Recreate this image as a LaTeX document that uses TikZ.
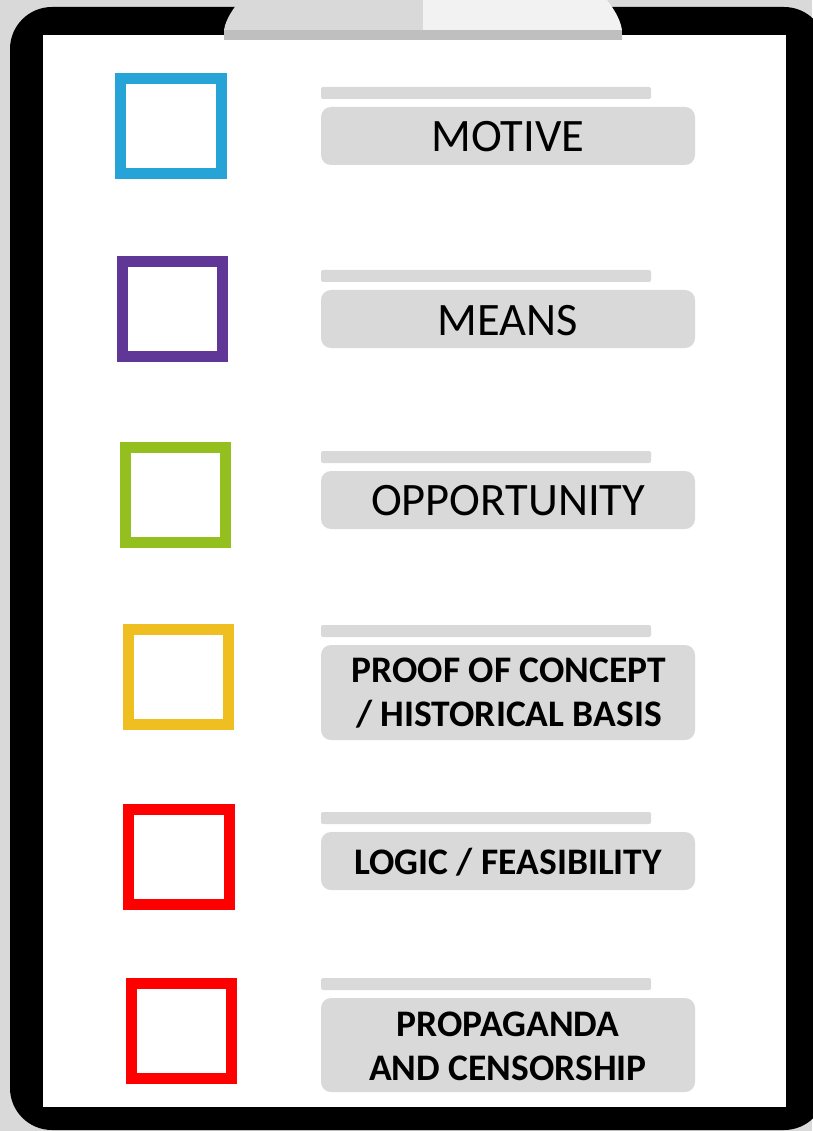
\documentclass[tikz,border=0pt]{standalone}
\usepackage{fontspec}
\setmainfont{Carlito}
\definecolor{bgGray}{HTML}{D9D9D9}
\definecolor{barGray}{HTML}{D9D9D9}
\definecolor{clipL}{HTML}{D9D9D9}
\definecolor{clipR}{HTML}{F2F2F2}
\definecolor{clipB}{HTML}{BFBFBF}
\definecolor{cBlue}{HTML}{26A3D7}
\definecolor{cPurple}{HTML}{603797}
\definecolor{cGreen}{HTML}{93C01F}
\definecolor{cYellow}{HTML}{EFBF22}
\definecolor{cRed}{HTML}{FF0000}
\tikzset{
  chk/.style={draw=#1, line width=11pt, fill=white},
  thinbar/.style={fill=barGray, rounded corners=2pt},
  labelbox/.style={fill=barGray, rounded corners=10pt},
  lbltxt/.style={font=\fontsize{46.5}{52}\selectfont, align=center, inner sep=0pt},
  lblbold/.style={font=\bfseries\fontsize{37.5}{44}\selectfont, align=center, inner sep=0pt},
}
\begin{document}
\begin{tikzpicture}[x=1pt,y=-1pt]
\useasboundingbox (0,0) rectangle (812,1131);
\fill[bgGray] (0,0) rectangle (812,1131);
% clipboard body
\fill[black, rounded corners=42pt] (10,7) rectangle (826,1130);
\fill[white] (43,35) rectangle (786,1107);
% clip
\fill[clipL] (224,30) .. controls (226,18) and (234,8) .. (240,0) -- (423,0) -- (423,30) -- cycle;
\fill[clipR] (423,0) -- (607,0) .. controls (613,8) and (620,18) .. (622,30) -- (423,30) -- cycle;
\fill[clipB] (224,30) rectangle (622,40);

% checkboxes (centre line of stroke)
\draw[chk=cBlue]   (120.5,78.5) rectangle (221.5,173.5);
\draw[chk=cPurple] (122.5,261.5) rectangle (222.5,356.5);
\draw[chk=cGreen]  (125.5,447.5) rectangle (225.5,542.5);
\draw[chk=cYellow] (128.5,629.5) rectangle (228.5,724.5);
\draw[chk=cRed]    (128.5,809.5) rectangle (229.5,904.5);
\draw[chk=cRed]    (131.5,983.5) rectangle (231.5,1078.5);

% thin bars
\fill[thinbar] (321,87) rectangle (651,99);
\fill[thinbar] (321,270) rectangle (651,282);
\fill[thinbar] (321,451) rectangle (651,463);
\fill[thinbar] (321,625) rectangle (651,637);
\fill[thinbar] (321,812) rectangle (651,824);
\fill[thinbar] (321,978) rectangle (651,990);

% label boxes
\fill[labelbox] (321,107) rectangle (695,165);
\fill[labelbox] (321,290) rectangle (695,348);
\fill[labelbox] (321,471) rectangle (695,529);
\fill[labelbox] (321,645) rectangle (695,740);
\fill[labelbox] (321,832) rectangle (695,890);
\fill[labelbox] (321,998) rectangle (695,1092);

\node[lbltxt] (t1) at (508,137) {MOTIVE};
\node[lbltxt] (t2) at (508,321) {MEANS};
\node[lbltxt] (t3) at (508,501) {OPPORTUNITY};
\node[lblbold] (t4) at (509,693) {PROOF OF CONCEPT\\/ HISTORICAL BASIS};
\node[lblbold] (t5) at (508,862) {LOGIC / FEASIBILITY};
\node[lblbold] (t6) at (508,1046) {PROPAGANDA\\AND CENSORSHIP};
\end{tikzpicture}
\end{document}
